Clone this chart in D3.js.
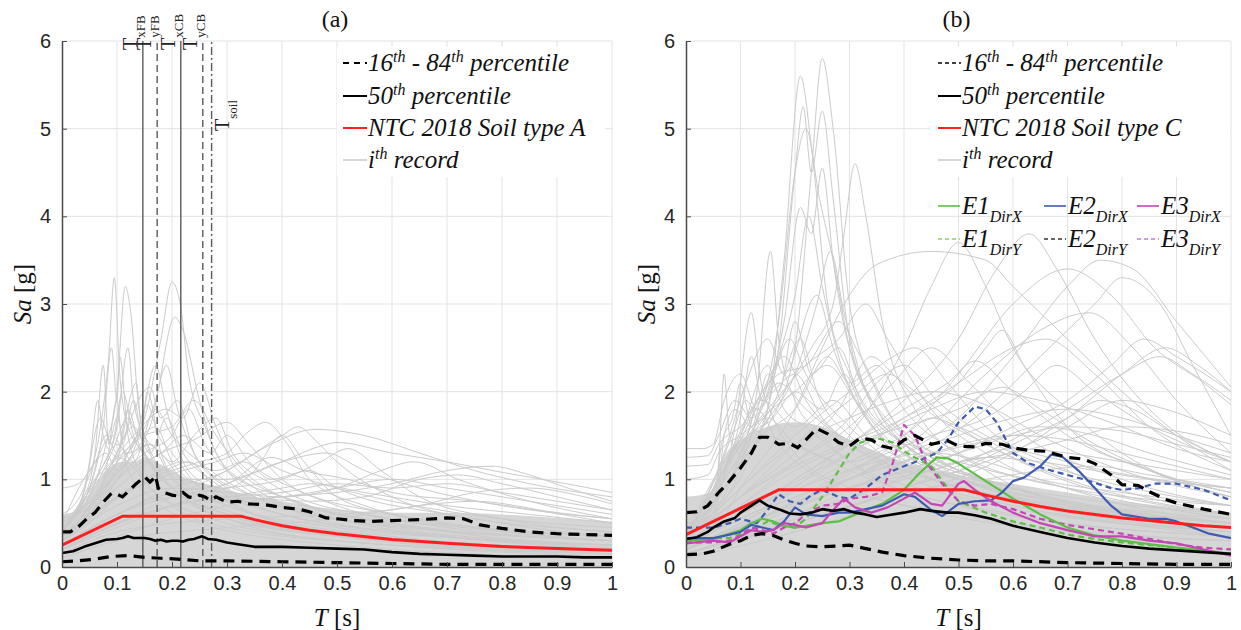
<!DOCTYPE html>
<html><head><meta charset="utf-8">
<script src="https://cdn.jsdelivr.net/npm/d3@7"></script>
<style>body{margin:0;background:#fff}</style>
</head><body>
<svg id="c" width="1241" height="630" xmlns="http://www.w3.org/2000/svg"></svg>
<script>
// ---------------- DATA ----------------
const xTicks = [0,0.1,0.2,0.3,0.4,0.5,0.6,0.7,0.8,0.9,1];
const xTickLabels = ["0","0.1","0.2","0.3","0.4","0.5","0.6","0.7","0.8","0.9","1"];
const yTicks = [0,1,2,3,4,5,6];
const yTickLabels = ["0","1","2","3","4","5","6"];
const panelTitles = ["(a)","(b)"];

// Panel (a): period markers
const markerNames = ["xFB","yFB","xCB","yCB","soil"];
const markerT = [0.147,0.173,0.216,0.256,0.272];
const markerStyle = ["solid","dash","solid","dash","dashdot"];

// Panel (a) design spectrum and percentiles [T, Sa]
const ntcA = [[0,0.25],[0.11,0.58],[0.325,0.58],[0.35,0.54],[0.4,0.47],[0.45,0.42],[0.5,0.38],[0.6,0.315],[0.7,0.27],[0.8,0.235],[0.9,0.21],[1,0.19]];
const p50A = [[0,0.16],[0.02,0.18],[0.04,0.23],[0.06,0.27],[0.08,0.31],[0.1,0.32],[0.11,0.33],[0.12,0.35],[0.13,0.33],[0.15,0.33],[0.16,0.32],[0.17,0.30],[0.18,0.31],[0.19,0.29],[0.2,0.30],[0.21,0.30],[0.22,0.29],[0.23,0.31],[0.24,0.32],[0.255,0.35],[0.265,0.32],[0.28,0.31],[0.3,0.28],[0.32,0.26],[0.35,0.23],[0.4,0.23],[0.45,0.22],[0.5,0.21],[0.55,0.20],[0.6,0.17],[0.65,0.15],[0.7,0.14],[0.75,0.13],[0.8,0.12],[0.85,0.12],[0.9,0.12],[0.95,0.11],[1,0.11]];
const p84A = [[0,0.40],[0.015,0.40],[0.03,0.46],[0.045,0.55],[0.06,0.62],[0.075,0.74],[0.09,0.84],[0.1,0.83],[0.11,0.80],[0.12,0.86],[0.135,0.95],[0.15,1.03],[0.16,0.97],[0.165,1.0],[0.17,1.04],[0.175,0.90],[0.185,0.85],[0.2,0.82],[0.21,0.81],[0.22,0.85],[0.23,0.80],[0.24,0.79],[0.25,0.82],[0.26,0.80],[0.27,0.76],[0.28,0.80],[0.29,0.77],[0.3,0.74],[0.32,0.75],[0.34,0.72],[0.37,0.71],[0.4,0.68],[0.43,0.66],[0.45,0.63],[0.48,0.56],[0.5,0.55],[0.53,0.53],[0.56,0.52],[0.6,0.53],[0.65,0.54],[0.7,0.56],[0.73,0.55],[0.76,0.48],[0.8,0.44],[0.85,0.40],[0.9,0.38],[0.95,0.37],[1,0.36]];
const p16A = [[0,0.06],[0.03,0.07],[0.06,0.09],[0.09,0.12],[0.12,0.13],[0.15,0.11],[0.18,0.10],[0.21,0.09],[0.25,0.07],[0.3,0.07],[0.4,0.06],[0.5,0.05],[0.6,0.04],[0.7,0.03],[0.8,0.03],[0.9,0.03],[1,0.03]];

// Panel (a) dense record band (upper envelope of the packed grey records)
const bandA = [[0,0.6],[0.03,0.65],[0.05,0.8],[0.07,1.0],[0.09,1.15],[0.11,1.2],[0.13,1.2],[0.15,1.25],[0.17,1.2],[0.2,1.1],[0.23,1.0],[0.26,0.95],[0.3,0.88],[0.35,0.8],[0.4,0.75],[0.45,0.7],[0.5,0.66],[0.6,0.62],[0.7,0.62],[0.8,0.6],[0.9,0.56],[1,0.52]];
// Panel (a) individual records
const recordsA = [
 [[0,0.6],[0.04,0.9],[0.07,1.6],[0.085,2.4],[0.095,3.3],[0.105,2.2],[0.12,1.6],[0.15,1.3],[0.2,0.9],[0.3,0.6],[0.5,0.35],[0.7,0.25],[1,0.15]],
 [[0,0.5],[0.05,0.8],[0.08,1.4],[0.1,2.0],[0.115,3.2],[0.125,2.9],[0.14,1.8],[0.17,1.2],[0.22,0.8],[0.3,0.55],[0.5,0.3],[0.8,0.2],[1,0.15]],
 [[0,0.55],[0.05,0.7],[0.1,1.2],[0.15,1.7],[0.18,2.6],[0.2,3.25],[0.215,3.0],[0.23,2.2],[0.26,1.6],[0.3,1.1],[0.4,0.7],[0.6,0.4],[1,0.25]],
 [[0,0.5],[0.06,0.8],[0.12,1.3],[0.17,1.9],[0.205,2.85],[0.22,2.7],[0.25,1.9],[0.28,1.3],[0.35,0.9],[0.5,0.55],[0.7,0.35],[1,0.2]],
 [[0,0.45],[0.05,0.9],[0.075,1.6],[0.09,2.5],[0.1,1.9],[0.105,2.4],[0.12,1.5],[0.15,1.0],[0.2,0.7],[0.3,0.45],[0.6,0.25],[1,0.12]],
 [[0,0.4],[0.05,0.6],[0.1,1.0],[0.14,1.5],[0.17,2.3],[0.19,1.8],[0.22,1.2],[0.27,0.9],[0.35,0.6],[0.5,0.4],[1,0.2]],
 [[0,0.35],[0.06,0.7],[0.1,1.2],[0.135,2.1],[0.145,1.6],[0.155,2.0],[0.18,1.3],[0.22,0.9],[0.3,0.6],[0.5,0.35],[1,0.15]],
 [[0,0.5],[0.04,0.8],[0.06,1.3],[0.075,2.3],[0.085,1.4],[0.1,1.7],[0.12,1.1],[0.16,0.8],[0.25,0.5],[0.5,0.25],[1,0.1]],
 [[0,0.3],[0.05,0.5],[0.1,0.8],[0.15,1.0],[0.2,1.1],[0.25,1.2],[0.3,1.3],[0.34,1.55],[0.37,1.65],[0.41,1.4],[0.45,1.0],[0.55,0.7],[0.7,0.5],[1,0.3]],
 [[0,0.25],[0.1,0.6],[0.2,0.9],[0.3,1.1],[0.35,1.3],[0.4,1.5],[0.43,1.6],[0.46,1.45],[0.5,1.2],[0.6,0.8],[0.8,0.5],[1,0.35]],
 [[0,0.2],[0.1,0.5],[0.2,0.8],[0.3,1.1],[0.38,1.4],[0.46,1.57],[0.55,1.5],[0.65,1.3],[0.75,1.1],[0.85,0.95],[1,0.8]],
 [[0,0.2],[0.1,0.45],[0.2,0.7],[0.3,0.95],[0.4,1.2],[0.47,1.38],[0.5,1.42],[0.6,1.3],[0.7,1.2],[0.8,1.08],[0.9,0.97],[1,0.85]],
 [[0,0.15],[0.1,0.35],[0.2,0.55],[0.3,0.7],[0.4,0.8],[0.5,0.85],[0.6,0.95],[0.7,1.1],[0.78,1.15],[0.85,1.05],[0.92,0.9],[1,0.75]],
 [[0,0.2],[0.15,0.6],[0.3,0.8],[0.45,0.75],[0.55,0.8],[0.65,1.0],[0.72,1.05],[0.8,0.95],[0.9,0.8],[1,0.65]],
 [[0,0.3],[0.1,0.7],[0.2,0.9],[0.3,0.85],[0.4,0.8],[0.5,0.9],[0.58,1.1],[0.64,1.2],[0.72,1.0],[0.85,0.75],[1,0.55]],
 [[0,0.3],[0.1,0.8],[0.2,1.0],[0.3,0.9],[0.35,1.1],[0.4,1.5],[0.44,1.2],[0.5,0.8],[0.6,0.6],[0.8,0.4],[1,0.3]],
 [[0,0.25],[0.1,0.6],[0.2,0.8],[0.3,0.9],[0.4,1.0],[0.47,1.2],[0.52,1.35],[0.58,1.1],[0.65,0.8],[0.8,0.55],[1,0.4]],
 [[0,0.2],[0.1,0.5],[0.25,0.75],[0.4,0.8],[0.5,0.9],[0.6,1.0],[0.7,0.9],[0.8,0.8],[0.9,0.7],[1,0.6]],
 [[0,0.15],[0.1,0.4],[0.3,0.55],[0.5,0.6],[0.65,0.7],[0.75,0.85],[0.85,0.9],[0.95,0.8],[1,0.72]],
 [[0,0.35],[0.1,0.9],[0.18,1.3],[0.24,1.45],[0.3,1.65],[0.34,1.4],[0.4,1.0],[0.5,0.7],[0.7,0.45],[1,0.3]],
 [[0,0.4],[0.08,1.1],[0.15,1.5],[0.2,1.6],[0.24,1.9],[0.28,1.5],[0.33,1.1],[0.4,0.8],[0.6,0.5],[1,0.3]],
 [[0,0.4],[0.07,1.0],[0.13,1.5],[0.19,1.8],[0.22,1.7],[0.25,2.1],[0.28,1.6],[0.32,1.1],[0.45,0.7],[0.7,0.4],[1,0.25]],
 [[0,0.9],[0.03,0.95],[0.06,1.2],[0.09,1.5],[0.12,1.3],[0.16,1.4],[0.2,1.0],[0.3,0.7],[0.5,0.45],[0.8,0.3],[1,0.22]],
 [[0,0.5],[0.05,0.8],[0.09,1.3],[0.12,1.7],[0.14,1.5],[0.17,1.6],[0.2,1.2],[0.26,0.9],[0.35,0.6],[0.6,0.3],[1,0.2]],
 [[0,0.3],[0.08,0.7],[0.15,0.95],[0.22,1.1],[0.28,1.2],[0.33,1.3],[0.4,1.1],[0.5,0.9],[0.6,0.75],[0.8,0.55],[1,0.45]],
 [[0,0.2],[0.1,0.5],[0.2,0.7],[0.3,0.8],[0.4,0.9],[0.45,0.95],[0.55,0.85],[0.7,0.7],[0.85,0.6],[1,0.5]],
 [[0,0.1],[0.1,0.3],[0.3,0.45],[0.5,0.55],[0.65,0.7],[0.75,0.75],[0.9,0.62],[1,0.55]],
 [[0,0.45],[0.05,0.75],[0.1,1.2],[0.13,1.4],[0.155,1.85],[0.175,1.5],[0.2,1.3],[0.25,0.9],[0.35,0.6],[0.6,0.35],[1,0.2]],
 [[0,0.35],[0.05,0.65],[0.08,1.1],[0.1,1.9],[0.11,1.4],[0.13,1.9],[0.15,1.3],[0.2,0.9],[0.3,0.55],[0.6,0.3],[1,0.18]],
 [[0,0.3],[0.06,0.8],[0.1,1.3],[0.16,2.05],[0.18,1.7],[0.21,1.9],[0.24,1.3],[0.3,0.9],[0.4,0.6],[0.7,0.35],[1,0.2]],
 [[0,0.4],[0.05,0.9],[0.08,1.5],[0.1,1.3],[0.12,1.8],[0.14,1.4],[0.17,1.1],[0.22,0.8],[0.3,0.55],[0.5,0.35],[1,0.18]],
 [[0,0.45],[0.04,0.85],[0.07,1.7],[0.09,1.4],[0.11,2.0],[0.13,1.5],[0.16,1.2],[0.2,0.9],[0.3,0.6],[0.6,0.3],[1,0.15]],
 [[0,0.35],[0.06,1.0],[0.09,1.2],[0.13,1.6],[0.16,1.3],[0.19,1.7],[0.22,1.3],[0.27,1.0],[0.35,0.7],[0.6,0.4],[1,0.25]],
 [[0,0.5],[0.05,1.1],[0.08,1.3],[0.1,1.1],[0.14,1.5],[0.18,1.1],[0.23,1.2],[0.28,0.9],[0.4,0.6],[0.7,0.35],[1,0.25]],
 [[0,0.3],[0.05,0.6],[0.1,1.0],[0.15,1.3],[0.2,1.5],[0.23,1.8],[0.26,1.4],[0.3,1.1],[0.4,0.8],[0.6,0.5],[1,0.3]],
 [[0,0.4],[0.04,0.7],[0.07,1.1],[0.1,1.4],[0.13,1.2],[0.17,1.8],[0.2,1.5],[0.25,1.2],[0.32,0.9],[0.5,0.55],[1,0.3]],
 [[0,0.55],[0.03,0.7],[0.05,1.2],[0.065,1.9],[0.075,1.5],[0.09,1.3],[0.12,1.2],[0.16,0.9],[0.25,0.6],[0.5,0.3],[1,0.15]],
 [[0,0.3],[0.07,0.8],[0.12,1.1],[0.18,1.3],[0.22,1.5],[0.27,1.3],[0.3,1.5],[0.34,1.2],[0.42,0.9],[0.6,0.6],[1,0.35]],
 [[0,0.25],[0.08,0.7],[0.15,1.0],[0.22,1.2],[0.28,1.1],[0.33,1.2],[0.38,1.0],[0.45,1.1],[0.5,0.9],[0.7,0.6],[1,0.4]],
 [[0,0.3],[0.1,0.8],[0.2,1.0],[0.3,1.0],[0.4,1.2],[0.48,1.3],[0.55,1.1],[0.65,0.9],[0.8,0.7],[1,0.55]],
 [[0,0.2],[0.1,0.5],[0.2,0.7],[0.3,0.8],[0.4,0.85],[0.5,0.95],[0.6,0.9],[0.7,0.95],[0.8,0.85],[0.9,0.75],[1,0.65]],
 [[0,0.25],[0.1,0.6],[0.2,0.85],[0.3,0.95],[0.38,1.25],[0.44,1.1],[0.52,1.0],[0.6,0.85],[0.75,0.75],[1,0.5]],
 [[0,0.4],[0.06,1.0],[0.1,1.6],[0.12,2.5],[0.13,1.9],[0.15,1.5],[0.18,1.3],[0.23,0.9],[0.32,0.6],[0.6,0.3],[1,0.18]],
 [[0,0.35],[0.05,0.7],[0.09,1.0],[0.13,1.3],[0.16,1.6],[0.19,2.3],[0.21,1.8],[0.25,1.2],[0.35,0.8],[0.6,0.45],[1,0.25]],
 [[0,0.3],[0.08,0.9],[0.12,1.2],[0.16,1.4],[0.2,1.2],[0.24,1.5],[0.28,1.7],[0.31,1.3],[0.38,0.95],[0.55,0.6],[1,0.35]]
];

// Panel (b) design spectrum and percentiles
const ntcC = [[0,0.37],[0.17,0.88],[0.51,0.88],[0.55,0.82],[0.6,0.75],[0.65,0.69],[0.7,0.64],[0.75,0.60],[0.8,0.56],[0.85,0.53],[0.9,0.50],[0.95,0.47],[1,0.45]];
const p50B = [[0,0.32],[0.02,0.34],[0.04,0.40],[0.05,0.45],[0.07,0.52],[0.09,0.56],[0.1,0.62],[0.12,0.70],[0.135,0.76],[0.15,0.70],[0.17,0.66],[0.19,0.61],[0.21,0.60],[0.23,0.62],[0.25,0.66],[0.27,0.64],[0.29,0.66],[0.31,0.62],[0.33,0.60],[0.35,0.57],[0.37,0.59],[0.4,0.62],[0.43,0.66],[0.45,0.64],[0.48,0.62],[0.5,0.62],[0.53,0.59],[0.56,0.55],[0.6,0.47],[0.65,0.40],[0.7,0.33],[0.75,0.28],[0.8,0.24],[0.85,0.21],[0.9,0.19],[0.95,0.17],[1,0.15]];
const p84B = [[0,0.62],[0.02,0.63],[0.04,0.70],[0.06,0.85],[0.08,0.98],[0.1,1.13],[0.12,1.30],[0.135,1.48],[0.15,1.48],[0.17,1.40],[0.19,1.41],[0.205,1.36],[0.22,1.45],[0.24,1.58],[0.26,1.52],[0.28,1.42],[0.3,1.38],[0.32,1.47],[0.34,1.45],[0.36,1.38],[0.38,1.35],[0.4,1.45],[0.42,1.50],[0.45,1.40],[0.48,1.44],[0.5,1.38],[0.53,1.37],[0.55,1.41],[0.58,1.40],[0.6,1.36],[0.63,1.33],[0.66,1.32],[0.7,1.25],[0.73,1.23],[0.75,1.18],[0.78,1.05],[0.8,0.94],[0.83,0.93],[0.85,0.86],[0.88,0.77],[0.9,0.73],[0.95,0.66],[1,0.60]];
const p16B = [[0,0.14],[0.03,0.15],[0.05,0.18],[0.08,0.26],[0.1,0.30],[0.12,0.36],[0.14,0.38],[0.16,0.36],[0.18,0.31],[0.2,0.27],[0.22,0.24],[0.25,0.23],[0.28,0.24],[0.3,0.25],[0.33,0.21],[0.36,0.17],[0.4,0.13],[0.45,0.10],[0.5,0.08],[0.55,0.07],[0.6,0.07],[0.7,0.05],[0.8,0.04],[0.9,0.03],[1,0.03]];

// Panel (b) selected records
const e1X = [[0,0.30],[0.05,0.32],[0.08,0.38],[0.1,0.42],[0.12,0.50],[0.14,0.55],[0.16,0.52],[0.18,0.47],[0.2,0.45],[0.22,0.47],[0.25,0.50],[0.28,0.52],[0.3,0.57],[0.33,0.65],[0.36,0.72],[0.4,0.88],[0.43,1.08],[0.46,1.25],[0.48,1.24],[0.5,1.18],[0.55,0.98],[0.6,0.78],[0.65,0.60],[0.7,0.45],[0.75,0.36],[0.8,0.30],[0.85,0.26],[0.9,0.22],[0.95,0.19],[1,0.15]];
const e1Y = [[0,0.30],[0.05,0.33],[0.08,0.33],[0.1,0.38],[0.13,0.45],[0.15,0.52],[0.17,0.48],[0.2,0.45],[0.22,0.55],[0.25,0.80],[0.28,1.10],[0.3,1.30],[0.32,1.42],[0.35,1.47],[0.38,1.42],[0.4,1.32],[0.42,1.25],[0.45,1.15],[0.48,0.90],[0.5,0.75],[0.55,0.62],[0.6,0.52],[0.65,0.45],[0.7,0.37],[0.75,0.32],[0.8,0.28],[0.85,0.25],[0.9,0.22],[0.95,0.18],[1,0.15]];
const e2X = [[0,0.33],[0.05,0.33],[0.08,0.37],[0.1,0.40],[0.12,0.48],[0.14,0.45],[0.16,0.42],[0.18,0.52],[0.2,0.68],[0.22,0.60],[0.25,0.58],[0.28,0.62],[0.3,0.62],[0.33,0.66],[0.36,0.70],[0.4,0.83],[0.42,0.80],[0.45,0.65],[0.47,0.58],[0.5,0.72],[0.53,0.75],[0.56,0.76],[0.58,0.85],[0.6,0.98],[0.62,1.02],[0.65,1.15],[0.67,1.28],[0.69,1.26],[0.72,1.10],[0.75,0.90],[0.78,0.70],[0.8,0.60],[0.85,0.55],[0.88,0.55],[0.9,0.52],[0.93,0.45],[0.96,0.38],[1,0.33]];
const e2Y = [[0,0.45],[0.05,0.45],[0.08,0.50],[0.1,0.55],[0.13,0.50],[0.15,0.65],[0.17,0.83],[0.19,0.75],[0.21,0.72],[0.23,0.82],[0.25,0.88],[0.28,0.80],[0.3,0.78],[0.33,0.90],[0.36,1.05],[0.4,1.15],[0.43,1.22],[0.46,1.30],[0.48,1.45],[0.5,1.65],[0.53,1.83],[0.55,1.80],[0.57,1.65],[0.6,1.30],[0.63,1.18],[0.67,1.10],[0.7,1.05],[0.73,1.00],[0.78,0.90],[0.8,0.88],[0.83,0.90],[0.86,0.95],[0.9,0.95],[0.95,0.88],[1,0.76]];
const e3X = [[0,0.27],[0.05,0.30],[0.08,0.28],[0.1,0.35],[0.12,0.42],[0.14,0.40],[0.16,0.42],[0.18,0.50],[0.2,0.48],[0.22,0.45],[0.25,0.50],[0.27,0.65],[0.29,0.78],[0.31,0.68],[0.34,0.62],[0.37,0.68],[0.4,0.78],[0.42,0.85],[0.45,0.72],[0.47,0.70],[0.5,0.95],[0.51,0.98],[0.53,0.88],[0.56,0.75],[0.6,0.62],[0.65,0.50],[0.7,0.42],[0.75,0.35],[0.8,0.35],[0.85,0.30],[0.9,0.27],[0.95,0.20],[1,0.13]];
const e3Y = [[0,0.28],[0.05,0.28],[0.08,0.30],[0.1,0.36],[0.12,0.45],[0.14,0.42],[0.16,0.38],[0.18,0.45],[0.2,0.50],[0.22,0.60],[0.25,0.70],[0.28,0.72],[0.3,0.78],[0.33,0.80],[0.36,0.85],[0.38,1.20],[0.4,1.62],[0.42,1.50],[0.44,1.20],[0.47,0.95],[0.5,0.75],[0.53,0.70],[0.56,0.72],[0.6,0.66],[0.65,0.55],[0.7,0.48],[0.75,0.43],[0.8,0.38],[0.85,0.32],[0.9,0.26],[0.95,0.22],[1,0.20]];

// Panel (b) dense record band and individual records
const bandB = [[0,0.8],[0.045,0.85],[0.055,1.0],[0.07,1.25],[0.1,1.45],[0.15,1.6],[0.2,1.65],[0.25,1.6],[0.3,1.45],[0.4,1.2],[0.5,1.05],[0.6,0.95],[0.7,0.85],[0.8,0.75],[0.9,0.68],[1,0.62]];
const recordsB = [
 [[0,0.6],[0.05,0.65],[0.1,1.2],[0.15,1.6],[0.2,2.5],[0.23,4.5],[0.25,5.8],[0.27,5.0],[0.3,3.0],[0.35,2.0],[0.45,1.3],[0.6,0.9],[0.8,0.6],[1,0.45]],
 [[0,0.5],[0.05,0.6],[0.1,1.1],[0.15,1.8],[0.18,3.5],[0.21,5.6],[0.23,4.8],[0.26,3.0],[0.3,2.2],[0.4,1.4],[0.6,0.8],[1,0.4]],
 [[0,0.4],[0.06,0.7],[0.12,1.3],[0.17,2.5],[0.2,4.5],[0.215,5.25],[0.23,4.5],[0.25,5.2],[0.27,4.2],[0.3,2.6],[0.35,1.8],[0.5,1.1],[0.7,0.7],[1,0.4]],
 [[0,0.45],[0.06,0.8],[0.12,1.5],[0.17,2.8],[0.2,4.5],[0.22,5.0],[0.245,4.2],[0.27,3.5],[0.3,2.5],[0.35,1.8],[0.45,1.2],[0.7,0.7],[1,0.45]],
 [[0,0.5],[0.06,0.9],[0.12,1.5],[0.18,2.0],[0.23,2.5],[0.27,3.0],[0.29,3.8],[0.31,4.6],[0.33,4.0],[0.36,2.8],[0.42,1.8],[0.55,1.1],[0.8,0.6],[1,0.45]],
 [[0,0.4],[0.06,0.8],[0.12,1.5],[0.18,2.8],[0.21,4.1],[0.23,3.8],[0.25,4.55],[0.27,3.5],[0.3,2.5],[0.4,1.5],[0.6,0.9],[1,0.5]],
 [[0,0.45],[0.05,0.7],[0.1,1.3],[0.13,2.0],[0.155,3.6],[0.17,2.6],[0.2,1.9],[0.25,1.5],[0.35,1.0],[0.6,0.6],[1,0.35]],
 [[0,0.4],[0.05,0.7],[0.09,1.6],[0.12,2.9],[0.135,2.2],[0.16,1.7],[0.2,1.3],[0.3,0.9],[0.5,0.6],[1,0.3]],
 [[0,0.5],[0.05,0.6],[0.06,1.2],[0.07,2.2],[0.08,1.5],[0.1,1.3],[0.13,1.8],[0.17,1.4],[0.25,1.0],[0.4,0.7],[0.7,0.4],[1,0.3]],
 [[0,0.3],[0.05,0.4],[0.1,0.9],[0.2,1.8],[0.25,2.5],[0.3,3.1],[0.35,3.45],[0.45,3.6],[0.55,3.5],[0.6,3.2],[0.7,2.6],[0.8,2.0],[0.9,1.5],[1,1.1]],
 [[0,0.2],[0.1,0.5],[0.2,0.9],[0.3,1.5],[0.4,2.5],[0.45,3.2],[0.5,3.7],[0.55,3.2],[0.6,2.5],[0.7,1.8],[0.8,1.3],[1,0.8]],
 [[0,0.25],[0.1,0.6],[0.2,1.0],[0.3,1.4],[0.4,1.9],[0.5,2.6],[0.57,3.4],[0.63,3.8],[0.68,3.4],[0.75,2.6],[0.85,1.8],[1,1.2]],
 [[0,0.2],[0.1,0.5],[0.2,0.8],[0.3,1.0],[0.4,1.3],[0.5,1.7],[0.6,2.4],[0.7,3.2],[0.76,3.5],[0.82,3.4],[0.9,2.8],[1,2.05]],
 [[0,0.2],[0.1,0.45],[0.25,0.9],[0.4,1.5],[0.5,2.2],[0.6,3.0],[0.7,3.4],[0.78,3.1],[0.86,2.5],[0.95,2.1],[1,1.85]],
 [[0,0.15],[0.2,0.6],[0.4,1.2],[0.55,1.8],[0.65,2.4],[0.75,3.0],[0.8,3.3],[0.87,3.0],[0.93,2.3],[1,1.5]],
 [[0,0.2],[0.15,0.6],[0.3,1.0],[0.45,1.6],[0.55,2.2],[0.65,2.7],[0.74,2.9],[0.82,2.5],[0.9,1.9],[1,1.3]],
 [[0,0.25],[0.1,0.6],[0.25,1.1],[0.4,1.7],[0.5,2.1],[0.6,2.5],[0.66,2.6],[0.75,2.2],[0.85,1.6],[1,1.1]],
 [[0,0.3],[0.1,0.9],[0.2,1.5],[0.3,2.0],[0.38,2.4],[0.42,2.5],[0.48,2.1],[0.55,1.6],[0.7,1.1],[1,0.6]],
 [[0,0.3],[0.1,0.8],[0.25,1.3],[0.4,1.7],[0.5,2.1],[0.55,2.5],[0.58,2.7],[0.62,2.3],[0.7,1.6],[0.85,1.1],[1,0.8]],
 [[0,0.1],[0.2,0.4],[0.4,0.8],[0.6,1.3],[0.7,1.7],[0.8,2.2],[0.88,2.5],[0.94,2.3],[1,2.0]],
 [[0,0.4],[0.07,1.2],[0.15,1.8],[0.22,2.3],[0.28,2.6],[0.33,3.0],[0.37,2.6],[0.45,1.8],[0.55,1.3],[0.75,0.8],[1,0.5]],
 [[0,0.4],[0.06,1.0],[0.12,1.8],[0.17,2.2],[0.22,2.3],[0.28,2.8],[0.32,2.4],[0.4,1.5],[0.55,1.0],[1,0.5]],
 [[0,0.35],[0.06,1.0],[0.1,1.5],[0.14,2.0],[0.18,2.4],[0.22,1.9],[0.28,1.5],[0.38,1.1],[0.6,0.7],[1,0.4]],
 [[0,1.35],[0.03,1.35],[0.05,1.4],[0.07,1.9],[0.1,2.2],[0.13,1.8],[0.17,2.1],[0.22,1.8],[0.3,1.4],[0.45,1.0],[0.7,0.7],[1,0.5]],
 [[0,1.25],[0.04,1.27],[0.06,1.5],[0.09,1.9],[0.12,1.7],[0.16,2.0],[0.2,2.2],[0.25,1.7],[0.35,1.3],[0.5,1.0],[1,0.55]],
 [[0,1.15],[0.04,1.17],[0.06,1.4],[0.1,1.6],[0.14,1.9],[0.2,1.6],[0.27,1.9],[0.33,1.5],[0.45,1.1],[0.7,0.8],[1,0.6]],
 [[0,1.0],[0.04,1.05],[0.06,1.3],[0.1,1.5],[0.15,1.7],[0.2,1.4],[0.3,1.2],[0.4,1.4],[0.5,1.2],[0.7,0.9],[1,0.7]],
 [[0,0.1],[0.2,0.5],[0.4,0.9],[0.55,1.3],[0.7,1.8],[0.8,2.2],[0.87,2.4],[0.93,2.2],[1,1.9]],
 [[0,0.3],[0.15,0.8],[0.3,1.3],[0.45,1.8],[0.55,2.0],[0.65,1.9],[0.8,1.6],[0.9,1.35],[1,1.2]],
 [[0,0.3],[0.2,0.8],[0.4,1.2],[0.6,1.5],[0.7,1.6],[0.8,1.55],[0.9,1.4],[1,1.25]],
 [[0,0.2],[0.2,0.7],[0.4,1.1],[0.55,1.4],[0.65,1.6],[0.75,1.5],[0.85,1.3],[1,1.05]],
 [[0,0.3],[0.1,0.8],[0.2,1.4],[0.3,1.9],[0.37,2.2],[0.42,2.0],[0.5,1.6],[0.65,1.1],[1,0.6]],
 [[0,0.3],[0.1,0.8],[0.2,1.2],[0.3,1.6],[0.38,2.1],[0.45,2.5],[0.52,2.1],[0.6,1.6],[0.8,1.0],[1,0.7]],
 [[0,0.35],[0.07,1.1],[0.14,1.7],[0.2,2.0],[0.26,2.3],[0.31,1.9],[0.38,1.3],[0.5,0.9],[0.8,0.5],[1,0.35]],
 [[0,0.15],[0.2,0.5],[0.4,0.9],[0.55,1.2],[0.7,1.6],[0.8,1.9],[0.88,1.8],[1,1.5]],
 [[0,0.25],[0.1,0.7],[0.2,1.1],[0.3,1.4],[0.4,1.6],[0.5,1.8],[0.58,2.05],[0.65,1.8],[0.75,1.4],[0.9,1.0],[1,0.85]],
 [[0,0.3],[0.06,0.9],[0.1,1.7],[0.12,2.4],[0.14,1.9],[0.19,2.6],[0.22,2.2],[0.3,1.6],[0.45,1.0],[1,0.4]],
 [[0,0.35],[0.07,1.3],[0.11,2.1],[0.15,2.6],[0.18,2.2],[0.24,3.1],[0.27,2.5],[0.33,1.7],[0.5,1.0],[1,0.45]],
 [[0,0.25],[0.1,0.7],[0.2,1.2],[0.3,1.7],[0.35,2.1],[0.4,2.3],[0.46,1.9],[0.55,1.5],[0.7,1.2],[1,0.9]],
 [[0,0.2],[0.15,0.6],[0.3,1.0],[0.45,1.3],[0.6,1.5],[0.7,1.45],[0.8,1.3],[0.9,1.15],[1,1.0]],
 [[0,0.4],[0.055,0.6],[0.07,1.5],[0.09,1.8],[0.12,1.6],[0.15,2.2],[0.18,1.8],[0.22,1.6],[0.3,1.2],[0.5,0.8],[1,0.4]],
 [[0,0.35],[0.06,1.1],[0.09,1.6],[0.11,1.9],[0.14,1.6],[0.17,2.0],[0.21,2.6],[0.24,2.0],[0.3,1.5],[0.45,1.0],[1,0.5]],
 [[0,0.3],[0.06,0.9],[0.1,1.4],[0.16,1.7],[0.2,2.0],[0.25,1.8],[0.29,2.2],[0.33,1.7],[0.4,1.3],[0.6,0.9],[1,0.5]],
 [[0,0.45],[0.05,0.6],[0.065,1.4],[0.085,1.7],[0.1,2.1],[0.12,1.6],[0.15,1.5],[0.2,1.4],[0.3,1.1],[0.5,0.7],[1,0.35]],
 [[0,0.3],[0.08,1.0],[0.14,1.5],[0.2,1.8],[0.26,2.4],[0.3,2.1],[0.35,2.3],[0.4,1.8],[0.5,1.3],[0.7,0.9],[1,0.55]],
 [[0,0.25],[0.1,0.8],[0.2,1.3],[0.28,1.8],[0.34,2.4],[0.38,2.2],[0.44,1.8],[0.52,1.5],[0.7,1.0],[1,0.6]],
 [[0,0.2],[0.1,0.6],[0.2,1.0],[0.3,1.4],[0.4,1.8],[0.48,2.1],[0.53,2.35],[0.6,2.0],[0.7,1.5],[0.85,1.1],[1,0.85]],
 [[0,0.2],[0.15,0.6],[0.3,1.1],[0.45,1.5],[0.55,1.7],[0.62,2.0],[0.68,2.3],[0.75,2.0],[0.85,1.6],[1,1.2]],
 [[0,0.15],[0.2,0.55],[0.35,0.9],[0.5,1.3],[0.6,1.6],[0.7,1.9],[0.78,2.3],[0.84,2.6],[0.9,2.4],[1,2.0]],
 [[0,0.2],[0.15,0.6],[0.3,1.0],[0.4,1.3],[0.5,1.5],[0.6,1.7],[0.7,1.8],[0.8,1.7],[0.9,1.5],[1,1.3]],
 [[0,0.25],[0.15,0.7],[0.3,1.2],[0.4,1.5],[0.45,1.7],[0.5,1.6],[0.6,1.3],[0.75,1.0],[0.9,0.8],[1,0.7]],
 [[0,0.15],[0.2,0.5],[0.4,0.9],[0.5,1.1],[0.6,1.4],[0.7,1.7],[0.76,1.9],[0.82,1.8],[0.9,1.5],[1,1.2]],
 [[0,0.3],[0.1,0.9],[0.2,1.4],[0.3,1.7],[0.38,1.9],[0.45,2.0],[0.55,1.85],[0.65,1.5],[0.8,1.1],[1,0.8]],
 [[0,0.2],[0.2,0.7],[0.35,1.0],[0.5,1.2],[0.6,1.3],[0.7,1.45],[0.8,1.6],[0.9,1.55],[1,1.4]],
 [[0,0.3],[0.06,1.0],[0.1,1.5],[0.15,2.3],[0.17,2.0],[0.2,2.8],[0.23,2.2],[0.28,2.5],[0.32,1.9],[0.4,1.4],[0.6,0.9],[1,0.5]],
 [[0,0.4],[0.07,1.0],[0.14,1.6],[0.2,2.2],[0.24,3.0],[0.265,3.6],[0.29,2.9],[0.33,2.0],[0.4,1.4],[0.6,0.9],[1,0.5]],
 [[0,0.35],[0.07,1.1],[0.12,1.7],[0.17,2.4],[0.2,3.1],[0.225,4.0],[0.25,3.2],[0.28,2.4],[0.35,1.6],[0.5,1.0],[1,0.45]],
 [[0,0.2],[0.15,0.55],[0.3,0.9],[0.45,1.1],[0.55,1.25],[0.65,1.2],[0.75,1.1],[0.85,1.0],[1,0.9]],
 [[0,0.15],[0.2,0.5],[0.4,0.85],[0.55,1.0],[0.65,1.1],[0.75,1.15],[0.85,1.05],[0.95,0.95],[1,0.9]],
 [[0,0.25],[0.1,0.6],[0.25,1.0],[0.35,1.2],[0.45,1.3],[0.55,1.2],[0.65,1.0],[0.8,0.85],[1,0.7]],
 [[0,0.2],[0.2,0.6],[0.4,1.0],[0.5,1.2],[0.6,1.35],[0.7,1.3],[0.8,1.2],[0.9,1.1],[1,1.0]]
];

// ---------------- CHART ----------------
const svg = d3.select('#c');
const SERIF = "'Liberation Serif','Times New Roman',serif";
const SANS = "'Liberation Sans',Arial,sans-serif";
const yScale = d3.scaleLinear().domain([0,6]).range([567,41]);
const GRAY = '#cbcbcb';

const panels = [
  {left:62, right:612, title:panelTitles[0]},
  {left:686, right:1231, title:panelTitles[1]}
];

function richText(sel, parts, size){
  let shift = 0;
  parts.forEach(p=>{
    const target = p.sup ? -9 : p.sub ? 8 : 0;
    const ts = sel.append('tspan').text(p.t).attr('dy', target - shift);
    if (p.sup || p.sub) ts.attr('font-size', Math.round(size*0.62));
    shift = target;
  });
}

panels.forEach((P, pi)=>{
  const x = d3.scaleLinear().domain([0,1]).range([P.left, P.right]);
  const g = svg.append('g');
  const line = d3.line().x(d=>x(d[0])).y(d=>yScale(d[1]));
  const smooth = d3.line().x(d=>x(d[0])).y(d=>yScale(d[1])).curve(d3.curveMonotoneX);

  // grid
  g.append('g').selectAll('line').data(xTicks.slice(1)).join('line')
    .attr('x1',d=>x(d)).attr('x2',d=>x(d)).attr('y1',yScale(0)).attr('y2',yScale(6))
    .attr('stroke','#e3e3e3').attr('stroke-width',1);
  g.append('g').selectAll('line').data(yTicks.slice(1)).join('line')
    .attr('x1',x(0)).attr('x2',x(1)).attr('y1',d=>yScale(d)).attr('y2',d=>yScale(d))
    .attr('stroke','#e3e3e3').attr('stroke-width',1);

  const clipId = 'clip'+pi;
  svg.append('clipPath').attr('id',clipId).append('rect')
    .attr('x',x(0)).attr('y',yScale(6)-2).attr('width',x(1)-x(0)).attr('height',yScale(0)-yScale(6)+2);
  const plot = g.append('g').attr('clip-path',`url(#${clipId})`);

  const band = pi===0 ? bandA : bandB;
  const recs = pi===0 ? recordsA : recordsB;
  plot.append('path').datum(band)
    .attr('d', d3.area().x(d=>x(d[0])).y0(yScale(0)).y1(d=>yScale(d[1])).curve(d3.curveMonotoneX))
    .attr('fill','#d6d6d6');
  plot.append('g').selectAll('path').data(recs).join('path')
    .attr('d', smooth).attr('fill','none').attr('stroke',GRAY).attr('stroke-width',1);

  if (pi===0){
    markerT.forEach((t,i)=>{
      const dash = markerStyle[i]==='dash' ? '7,4' : markerStyle[i]==='dashdot' ? '8,3,2,3' : null;
      plot.append('line').attr('x1',x(t)).attr('x2',x(t)).attr('y1',yScale(0)).attr('y2',yScale(6))
        .attr('stroke','#5a5a5a').attr('stroke-width',1.4).attr('stroke-dasharray',dash);
    });
  } else {
    const eSeries = [[e1Y,'#5cbf45','6,4'],[e2Y,'#3f5bb0','6,4'],[e3Y,'#c446b4','6,4'],
                     [e1X,'#5cbf45',null],[e2X,'#3f5bb0',null],[e3X,'#c446b4',null]];
    eSeries.forEach(([d,c,dash])=>{
      plot.append('path').datum(d).attr('d',line).attr('fill','none').attr('stroke',c)
        .attr('stroke-width',2.2).attr('stroke-dasharray',dash).attr('stroke-linejoin','round');
    });
  }

  const p84 = pi===0?p84A:p84B, p16 = pi===0?p16A:p16B, p50 = pi===0?p50A:p50B, ntc = pi===0?ntcA:ntcC;
  [p84,p16].forEach(d=>{
    plot.append('path').datum(d).attr('d',line).attr('fill','none').attr('stroke','#000')
      .attr('stroke-width',3.2).attr('stroke-dasharray','11,7');
  });
  plot.append('path').datum(ntc).attr('d',line).attr('fill','none').attr('stroke','#ff1f1f').attr('stroke-width',3);
  plot.append('path').datum(p50).attr('d',line).attr('fill','none').attr('stroke','#000').attr('stroke-width',2.6).attr('stroke-linejoin','round');

  // axes
  const ax = g.append('g').attr('transform',`translate(0,${yScale(0)})`)
    .call(d3.axisBottom(x).tickValues(xTicks).tickFormat((d,i)=>xTickLabels[i]).tickSizeInner(-5).tickSizeOuter(0).tickPadding(9));
  const ay = g.append('g').attr('transform',`translate(${x(0)},0)`)
    .call(d3.axisLeft(yScale).tickValues(yTicks).tickFormat((d,i)=>yTickLabels[i]).tickSizeInner(-5).tickSizeOuter(0).tickPadding(11));
  [ax,ay].forEach(a=>{
    a.select('.domain').attr('stroke','#4a4a4a').attr('stroke-width',1.5);
    a.selectAll('.tick line').attr('stroke','#4a4a4a');
    a.selectAll('.tick text').attr('font-family',SANS).attr('font-size',20).attr('fill','#262626');
  });

  // titles
  g.append('text').attr('x',(P.left+P.right)/2 - 2).attr('y',27).attr('text-anchor','middle')
    .attr('font-family',SERIF).attr('font-size',24).attr('fill','#111').text(P.title);
  const xl = g.append('text').attr('x',(P.left+P.right)/2).attr('y',626).attr('text-anchor','middle')
    .attr('font-family',SERIF).attr('font-size',25).attr('fill','#111');
  xl.append('tspan').attr('font-style','italic').text('T');
  xl.append('tspan').text(' [s]');
  const yl = g.append('text').attr('transform',`translate(${P.left-31},294) rotate(-90)`).attr('text-anchor','middle')
    .attr('font-family',SERIF).attr('font-size',25).attr('fill','#111');
  yl.append('tspan').attr('font-style','italic').text('Sa');
  yl.append('tspan').text(' [g]');

  // marker labels (panel a)
  if (pi===0){
    markerT.forEach((t,i)=>{
      const soil = markerNames[i]==='soil';
      const tx = soil ? x(t)+17 : x(t)-6;
      const ty = soil ? 131 : 50;
      const lab = g.append('text').attr('transform',`translate(${tx},${ty}) rotate(-90)`)
        .attr('font-family',SERIF).attr('font-size',20).attr('fill','#222');
      lab.append('tspan').text('T');
      lab.append('tspan').attr('dy',8).attr('font-size',13).text(markerNames[i]);
    });
  }

  // legend
  const L = pi===0 ? {x0:343, tx:368, bg:[337,47,268,130]} : {x0:938, tx:962, bg:[930,47,300,130]};
  g.append('rect').attr('x',L.bg[0]).attr('y',L.bg[1]).attr('width',L.bg[2]).attr('height',L.bg[3]).attr('fill','#fff');
  const fs = 25;
  const items = [
    {stroke:'#000', dash: pi===0?'6,5':'4,3', w: pi===0?2:1.6, parts:[{t:'16'},{t:'th',sup:true},{t:' - 84'},{t:'th',sup:true},{t:' percentile'}]},
    {stroke:'#000', dash:null, w:2, parts:[{t:'50'},{t:'th',sup:true},{t:' percentile'}]},
    {stroke:'#ff1f1f', dash:null, w:2, parts:[{t: pi===0?'NTC 2018 Soil type A':'NTC 2018 Soil type C'}]},
    {stroke:'#bdbdbd', dash:null, w:1.2, parts:[{t:'i'},{t:'th',sup:true},{t:' record'}]}
  ];
  const rowsY = [63,96,128,160];
  items.forEach((it,i)=>{
    g.append('line').attr('x1',L.x0).attr('x2',L.tx-1).attr('y1',rowsY[i]).attr('y2',rowsY[i])
      .attr('stroke',it.stroke).attr('stroke-width',it.w).attr('stroke-dasharray',it.dash);
    const t = g.append('text').attr('x',L.tx).attr('y',rowsY[i]+8).attr('font-family',SERIF)
      .attr('font-style','italic').attr('font-size',fs).attr('fill','#111');
    richText(t, it.parts, fs);
  });
  if (pi===1){
    const cols = [938, 1044, 1137];
    const eNames = ['E1','E2','E3'];
    const eColors = ['#5cbf45','#3f5bb0','#c446b4'];
    const dashColor = ['#8fd06a','#333333','#d07ac8'];
    [['DirX',null,206],['DirY','4,3',239]].forEach(([dir,dash,yy],r)=>{
      cols.forEach((cx,ci)=>{
        g.append('line').attr('x1',cx).attr('x2',cx+22).attr('y1',yy).attr('y2',yy)
          .attr('stroke', r===0?eColors[ci]:dashColor[ci]).attr('stroke-width',1.6).attr('stroke-dasharray',dash);
        const t = g.append('text').attr('x',cx+24).attr('y',yy+8).attr('font-family',SERIF)
          .attr('font-style','italic').attr('font-size',fs).attr('fill','#111');
        richText(t,[{t:eNames[ci]},{t:dir,sub:true}],fs);
      });
    });
  }
});
</script>
</body></html>
